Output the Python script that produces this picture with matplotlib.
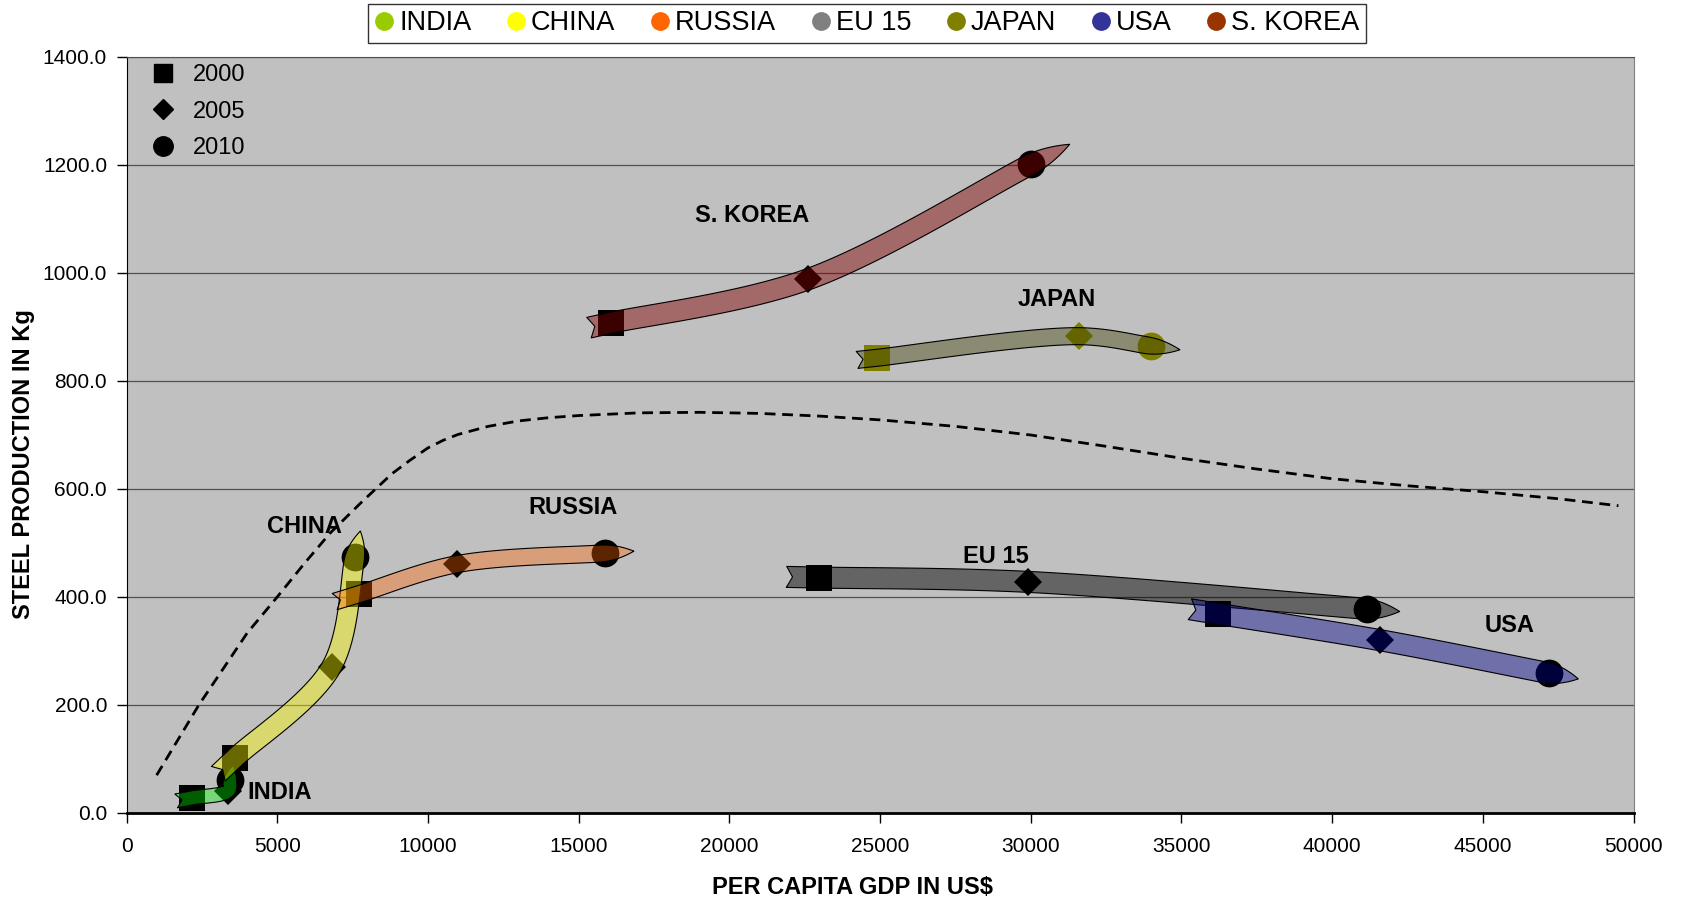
import numpy as np
import matplotlib
matplotlib.use("Agg")
import matplotlib.pyplot as plt
from matplotlib.lines import Line2D
from matplotlib.patches import Polygon

plt.rcParams["font.family"] = ["Liberation Sans", "DejaVu Sans"]

# страны и цвета легенды
countries = ["INDIA", "CHINA", "RUSSIA", "EU 15", "JAPAN", "USA", "S. KOREA"]
legend_colors = ["#99CC00", "#FFFF00", "#FF6600", "#808080", "#808000", "#333399", "#993300"]

# ВВП на душу населения (US$) и производство стали (кг на душу) по годам
gdp_2000 = [2170, 3600, 7700, 22960, 24900, 36200, 16090]
steel_2000 = [28, 102, 405, 436, 843, 369, 908]
gdp_2005 = [3370, 6805, 10980, 29905, 31605, 41590, 22595]
steel_2005 = [41, 271, 461, 428, 883, 320, 988]
gdp_2010 = [3440, 7580, 15875, 41150, 33995, 47190, 29995]
steel_2010 = [61, 475, 481, 378, 865, 259, 1201]

# пунктирная кривая тренда
trend_x = [1000, 2400, 4000, 5000, 5900, 6750, 7750, 8800, 9400, 10000, 10500, 11000,
           12000, 13000, 14000, 15000, 17000, 19000, 21000, 23000, 25000, 27500, 30000,
           32500, 35000, 37500, 40000, 42500, 45000, 47500, 49500]
trend_y = [70, 200, 333, 400, 462, 518, 573, 628, 653, 676, 690, 701,
           716, 726, 732, 736, 741, 742, 740, 735, 728, 716, 700,
           679, 657, 637, 619, 606, 595, 582, 569]

# подписи стран на поле графика
label_x = [5090, 5920, 14830, 28840, 30870, 45900, 20770]
label_y = [38, 531, 565, 475, 951, 348, 1106]

# оформление лент: цвет, прозрачность, ширина, хвост, наконечник (в пикселях)
band_style = {
    "INDIA": ((0, 255, 0), 0.37, 14, 16, 15),
    "CHINA": ((250, 250, 0), 0.42, 20, 23, 26),
    "RUSSIA": ((255, 100, 0), 0.37, 17, 25, 29),
    "EU 15": ((0, 0, 0), 0.48, 21, 32, 33),
    "JAPAN": ((60, 60, 0), 0.40, 17, 20, 29),
    "USA": ((0, 0, 140), 0.42, 21, 28, 30),
    "S. KOREA": ((130, 0, 0), 0.46, 21, 23, 44),
}

fig = plt.figure(figsize=(16.84, 9.01), dpi=100)
ax = fig.add_axes([126.5 / 1684, 88 / 901, 1507 / 1684, 756 / 901])
ax.set_facecolor("#C0C0C0")
ax.set_xlim(0, 50000)
ax.set_ylim(0, 1400)


def catmull_rom(pts, n=40):
    # центростремительный сплайн Катмулла-Рома через точки (в пикселях)
    ext = np.vstack([2 * pts[0] - pts[1], pts, 2 * pts[-1] - pts[-2]])
    out = []
    for i in range(1, len(ext) - 2):
        p0, p1, p2, p3 = ext[i - 1:i + 3]
        t0 = 0.0
        t1 = t0 + np.linalg.norm(p1 - p0) ** 0.5
        t2 = t1 + np.linalg.norm(p2 - p1) ** 0.5
        t3 = t2 + np.linalg.norm(p3 - p2) ** 0.5
        t = np.linspace(t1, t2, n, endpoint=False)[:, None]
        a1 = (t1 - t) / (t1 - t0) * p0 + (t - t0) / (t1 - t0) * p1
        a2 = (t2 - t) / (t2 - t1) * p1 + (t - t1) / (t2 - t1) * p2
        a3 = (t3 - t) / (t3 - t2) * p2 + (t - t2) / (t3 - t2) * p3
        b1 = (t2 - t) / (t2 - t0) * a1 + (t - t0) / (t2 - t0) * a2
        b2 = (t3 - t) / (t3 - t1) * a2 + (t - t1) / (t3 - t1) * a3
        out.append((t2 - t) / (t2 - t1) * b1 + (t - t1) / (t2 - t1) * b2)
    out.append(ext[-2][None])
    return np.vstack(out)


def band(xs, ys, width, tail_len, head_len, notch=6):
    pts = ax.transData.transform(np.column_stack([xs, ys]))
    d0 = pts[0] - pts[1]
    d0 /= np.hypot(*d0)
    d1 = pts[-1] - pts[-2]
    d1 /= np.hypot(*d1)
    ctrl = np.vstack([pts[0] + d0 * tail_len, pts, pts[-1] + d1 * head_len])
    curve = catmull_rom(ctrl)
    seg = np.diff(curve, axis=0)
    s = np.concatenate([[0], np.cumsum(np.hypot(seg[:, 0], seg[:, 1]))])
    tang = np.gradient(curve, axis=0)
    tang /= np.hypot(tang[:, 0], tang[:, 1])[:, None]
    nrm = np.column_stack([-tang[:, 1], tang[:, 0]])
    taper = head_len + 6
    u = np.clip((s - (s[-1] - taper)) / taper, 0, 1)
    hw = width / 2 * (1 - u ** 2)
    upper = curve + nrm * hw[:, None]
    lower = curve - nrm * hw[:, None]
    notch_pt = curve[0] + tang[0] * notch
    poly = np.vstack([notch_pt, upper, lower[::-1]])
    return ax.transData.inverted().transform(poly)


# сетка
ax.set_yticks(np.arange(0, 1401, 200))
ax.set_yticklabels([f"{v:.1f}" for v in np.arange(0, 1401, 200)], fontsize=15)
ax.set_xticks(range(0, 50001, 5000))
ax.set_xticklabels([str(v) for v in range(0, 50001, 5000)], fontsize=15,
                   fontfamily=["Liberation Sans Narrow", "Liberation Sans"])
ax.grid(axis="y", color="#505050", linewidth=0.9, zorder=1)
ax.set_axisbelow(True)
ax.tick_params(axis="x", length=7, width=1, pad=10, direction="out")
ax.tick_params(axis="y", length=7, width=1, pad=7, direction="out")
ax.spines["left"].set_color("black")
ax.spines["bottom"].set_color("black")
ax.spines["bottom"].set_linewidth(2)
ax.spines["top"].set_color("#505050")
ax.spines["right"].set_color("#808080")

# пунктирная кривая
ax.plot(trend_x, trend_y, color="black", linestyle=(0, (3.9, 2.4)), linewidth=2.0, zorder=2.5)

# маркеры по годам и ленты
for i, name in enumerate(countries):
    mcol = "#808000" if name == "JAPAN" else "black"
    ax.plot(gdp_2000[i], steel_2000[i], "s", color=mcol, ms=19, mew=0, zorder=3)
    ax.plot(gdp_2005[i], steel_2005[i], "D", color=mcol, ms=14, mew=0, zorder=3)
    ax.plot(gdp_2010[i], steel_2010[i], "o", color=mcol, ms=20, mew=0, zorder=3)

for i, name in enumerate(countries):
    rgb, alpha, width, tail, head = band_style[name]
    xs = [gdp_2000[i], gdp_2005[i], gdp_2010[i]]
    ys = [steel_2000[i], steel_2005[i], steel_2010[i]]
    fc = tuple(c / 255 for c in rgb) + (alpha,)
    ax.add_patch(Polygon(band(xs, ys, width, tail, head), closed=True, facecolor=fc,
                         edgecolor="black", linewidth=0.8, joinstyle="round", zorder=4))

for i, name in enumerate(countries):
    ax.text(label_x[i], label_y[i], name, fontsize=17, fontweight="bold",
            ha="center", va="center", zorder=6)

# легенда по годам
year_handles = [
    Line2D([], [], marker="s", color="black", ls="none", ms=13.5),
    Line2D([], [], marker="D", color="black", ls="none", ms=10),
    Line2D([], [], marker="o", color="black", ls="none", ms=14),
]
ax.legend(year_handles, ["2000", "2005", "2010"], loc="upper left",
          bbox_to_anchor=(0.0135, 1.0), frameon=False, fontsize=17,
          handlelength=0.8, handletextpad=0.85, labelspacing=0.62,
          borderpad=0.3, borderaxespad=0)

# легенда по странам
country_handles = [Line2D([], [], marker="o", color=c, ls="none", ms=12.5) for c in legend_colors]
leg = fig.legend(country_handles, countries, loc="center", bbox_to_anchor=(867 / 1684, 1 - 23.5 / 901),
                 ncol=7, fontsize=19.5, frameon=True, fancybox=False, edgecolor="black",
                 handlelength=0.7, handletextpad=0.2, columnspacing=1.3, borderpad=0.25)
leg.get_frame().set_linewidth(1)

# подписи осей
fig.text(853 / 1684, 1 - 887 / 901, "PER CAPITA GDP IN US$", fontsize=17,
         fontweight="bold", ha="center", va="center")
fig.text(24 / 1684, 1 - 464 / 901, "STEEL PRODUCTION IN Kg", fontsize=17,
         fontweight="bold", ha="center", va="center", rotation=90)

fig.savefig("out.png", dpi=100, facecolor="white")
